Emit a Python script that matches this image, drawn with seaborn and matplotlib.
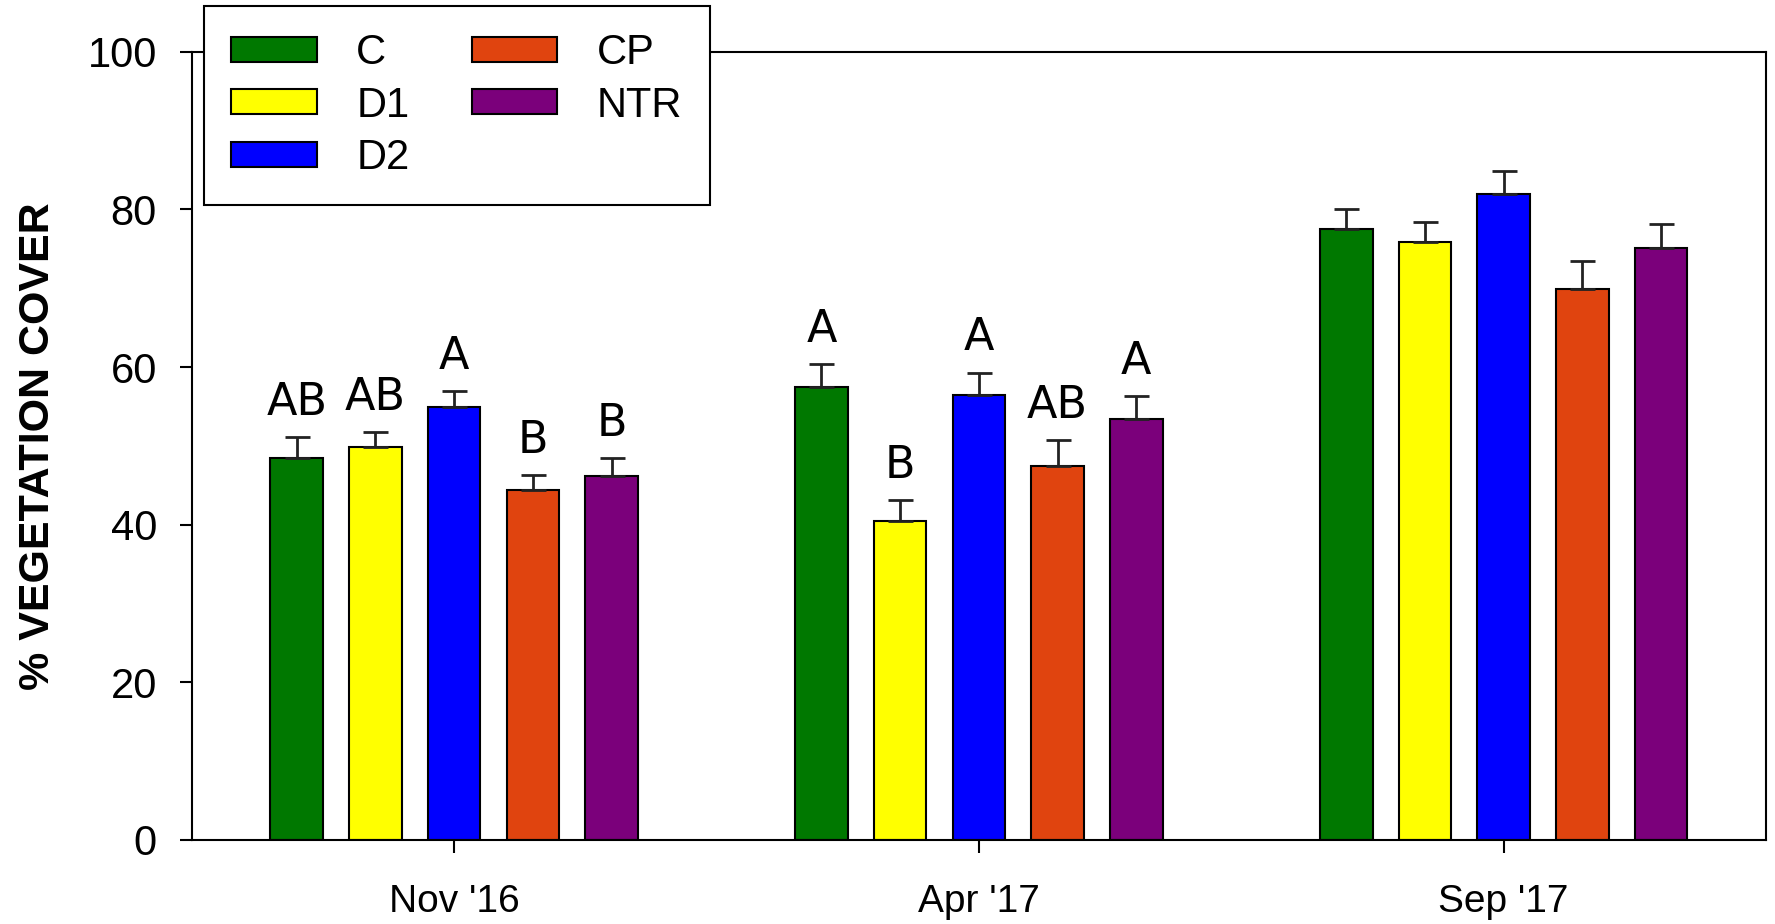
import pandas as pd
import seaborn as sns
import matplotlib.pyplot as plt

# values (means and upper SE)
dates = ["Nov '16", "Apr '17", "Sep '17"]
treatments = ['C', 'D1', 'D2', 'CP', 'NTR']
cover_nov16 = [48.4, 49.9, 54.9, 44.4, 46.2]
cover_apr17 = [57.5, 40.5, 56.5, 47.4, 53.4]
cover_sep17 = [77.5, 75.9, 82.0, 69.9, 75.1]
se_nov16 = [2.7, 1.8, 2.1, 1.9, 2.2]
se_apr17 = [2.9, 2.6, 2.8, 3.3, 2.9]
se_sep17 = [2.6, 2.5, 2.9, 3.5, 3.0]
letters_nov16 = ['AB', 'AB', 'A', 'B', 'B']
letters_apr17 = ['A', 'B', 'A', 'AB', 'A']
letters_sep17 = ['', '', '', '', '']

colors = ['#007800', '#ffff00', '#0000ff', '#e0440f', '#7b007b']

rows = []
for date, covers, ses, lets in zip(dates,
                                   [cover_nov16, cover_apr17, cover_sep17],
                                   [se_nov16, se_apr17, se_sep17],
                                   [letters_nov16, letters_apr17, letters_sep17]):
    for trt, c, s, l in zip(treatments, covers, ses, lets):
        rows.append({'date': date, 'trt': trt, 'cover': c, 'se': s, 'letter': l})
df = pd.DataFrame(rows)

sns.set_style('ticks')
plt.rcParams['font.family'] = ['Liberation Sans', 'DejaVu Sans']
plt.rcParams['text.color'] = 'black'
plt.rcParams['axes.labelcolor'] = 'black'

fig = plt.figure(figsize=(17.75, 9.24), dpi=100)
ax = fig.add_axes([0.108, 0.091, 0.887, 0.853])

sns.barplot(data=df, x='date', y='cover', hue='trt', order=dates,
            hue_order=treatments, palette=colors, width=0.75, gap=1/3,
            errorbar=None, edgecolor='black', linewidth=1.5, saturation=1,
            ax=ax)

# upper error bars + significance letters
for trt, cont in zip(treatments, ax.containers):
    for bar, date in zip(cont, dates):
        row = df[(df['trt'] == trt) & (df['date'] == date)].iloc[0]
        xc = bar.get_x() + bar.get_width() / 2
        ax.errorbar(xc, row['cover'], yerr=[[0], [row['se']]], fmt='none',
                    ecolor='#222222', elinewidth=2, capsize=9, capthick=2,
                    zorder=1)
        if row['letter']:
            ax.text(xc, row['cover'] + row['se'] + 2.8, row['letter'],
                    ha='center', va='baseline', fontsize=32,
                    family='DejaVu Sans', color='black')

ax.set_xlim(-0.5, 2.5)
ax.set_ylim(0, 100)
ax.set_yticks([0, 20, 40, 60, 80, 100])
ax.set_xlabel('')
ax.set_ylabel('% VEGETATION COVER', fontsize=31, fontweight='bold',
              labelpad=21)
ax.tick_params(axis='both', length=9, width=1.5, direction='out',
               colors='black')
ax.tick_params(axis='y', labelsize=30, pad=16)
ax.tick_params(axis='x', labelsize=28, pad=23)
for s in ax.spines.values():
    s.set_linewidth(1.5)
    s.set_color('black')

leg = ax.legend(ncol=2, loc='upper left', bbox_to_anchor=(0.115, 0.9935),
                bbox_transform=fig.transFigure, borderaxespad=0,
                fontsize=30, frameon=True, fancybox=False, edgecolor='black',
                framealpha=1, handlelength=2.05, handleheight=0.55,
                labelspacing=0.3, handletextpad=0.95, columnspacing=1.5,
                borderpad=0.65)
leg.get_frame().set_linewidth(1.5)
leg.set_zorder(5)

fig.savefig('out.png', dpi=100)
